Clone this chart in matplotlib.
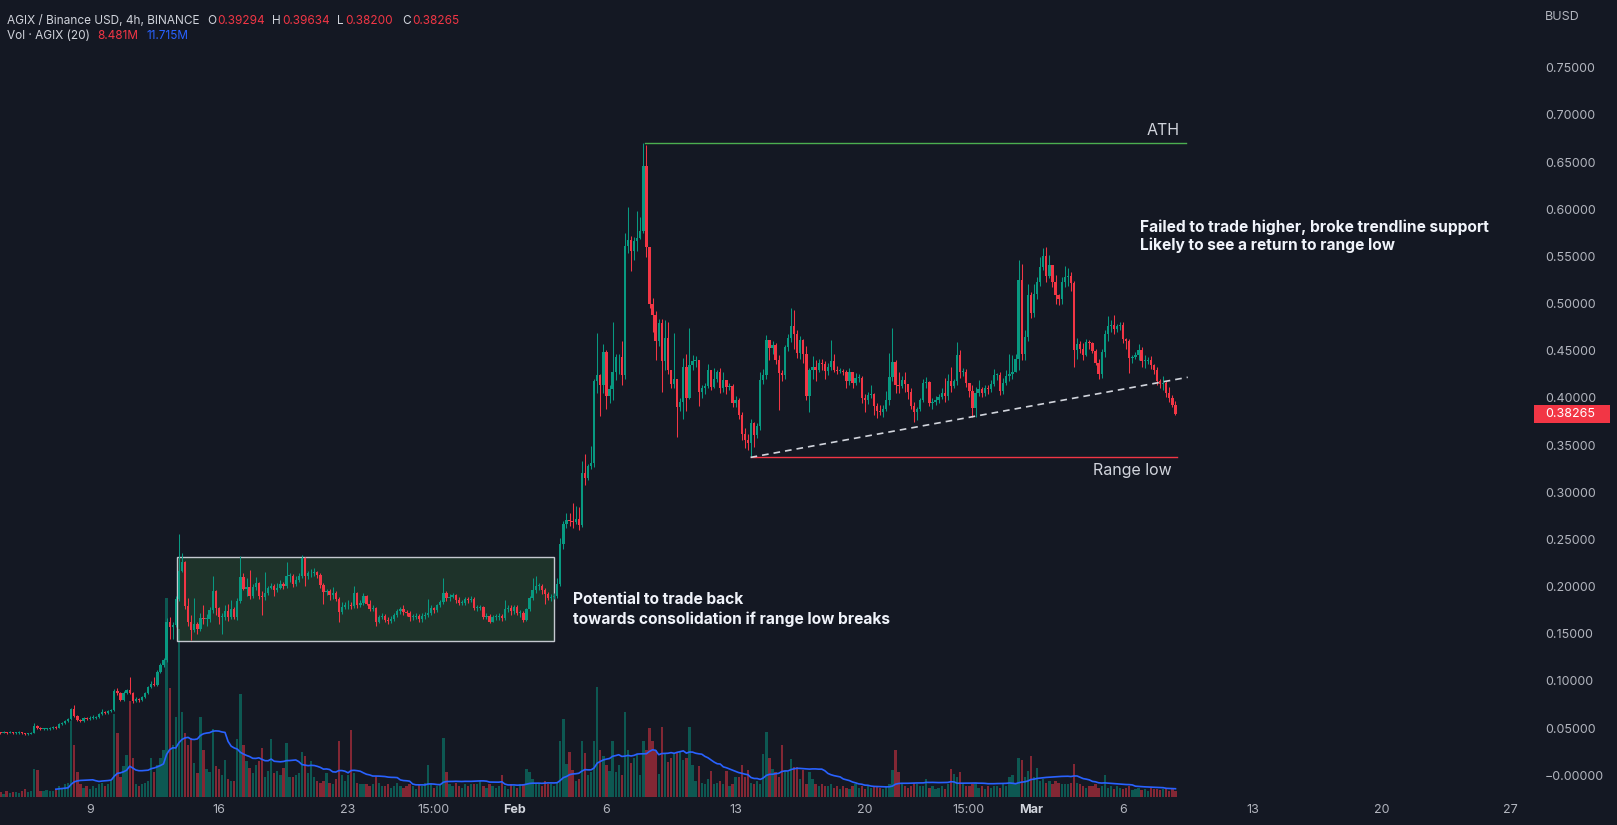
import numpy as np
import pandas as pd
import matplotlib
matplotlib.use('Agg')
import matplotlib.pyplot as plt
from matplotlib.patches import Rectangle

plt.rcParams['font.family'] = ['Inter', 'DejaVu Sans']

# AGIX/BUSD 4h candles, first one opens Jan 4 00:00 (day 3 counted from Jan 1 = 0)
# one row = one day = 6 candles, prices in 1/1000 BUSD
start_day = 3
first_open = 46

close_m = [
    46, 45, 46, 45, 46, 45,        # Jan 4
    45, 46, 45, 44, 44, 45,
    52, 50, 49, 49, 49, 50,
    51, 50, 54, 55, 58, 60,
    70, 63, 59, 58, 61, 60,
    61, 61, 62, 65, 67, 66,        # Jan 9
    68, 69, 89, 87, 80, 87,
    90, 87, 79, 81, 80, 83,
    87, 94, 97, 96, 110, 117,
    122, 163, 157, 159, 187, 217,
    226, 179, 162, 154, 160, 155,  # Jan 14
    167, 166, 166, 175, 195, 177,
    168, 168, 174, 168, 176, 168,  # Jan 16
    185, 210, 198, 200, 190, 200,
    204, 190, 189, 193, 199, 201,
    196, 199, 203, 201, 211, 211,
    203, 207, 211, 230, 211, 214,
    214, 215, 212, 202, 194, 195,
    191, 193, 187, 173, 178, 180,
    180, 179, 193, 180, 183, 190,  # Jan 23
    182, 176, 177, 163, 168, 169,
    165, 164, 166, 170, 174, 176,
    173, 172, 168, 168, 169, 166,
    169, 170, 172, 177, 175, 180,
    184, 193, 188, 189, 191, 186,
    183, 183, 187, 186, 187, 177,
    177, 178, 168, 169, 163, 168,
    168, 169, 167, 176, 177, 174,
    178, 172, 172, 165, 176, 188,  # Feb 1
    196, 201, 201, 196, 192, 188,
    189, 190, 203, 245, 266, 271,
    270, 268, 272, 265, 320, 315,
    328, 331, 418, 424, 414, 449,
    402, 409, 427, 443, 443, 424,  # Feb 6
    561, 567, 556, 566, 570, 577,
    646, 560, 500, 488, 460, 479,
    439, 463, 430, 415, 420, 390,
    396, 433, 400, 435, 439, 440,
    406, 410, 413, 430, 412, 420,
    427, 410, 419, 412, 413, 395,
    398, 382, 362, 355, 352, 373,  # Feb 13
    361, 370, 419, 424, 461, 453,
    456, 440, 426, 424, 454, 464,
    476, 468, 448, 461, 447, 402,
    430, 433, 430, 437, 436, 429,
    433, 439, 430, 429, 429, 428,
    418, 427, 416, 421, 421, 400,
    398, 403, 404, 391, 386, 385,  # Feb 20
    388, 398, 422, 438, 414, 413,
    419, 415, 406, 391, 385, 388,
    398, 416, 417, 395, 396, 398,
    401, 405, 402, 418, 413, 418,
    446, 428, 428, 416, 407, 389,
    405, 409, 405, 410, 409, 415,
    424, 424, 407, 416, 423, 425,
    428, 441, 525, 447, 465, 509,
    490, 510, 523, 539, 550, 529,  # Mar 1
    541, 523, 509, 505, 523, 528,
    529, 522, 451, 457, 452, 445,
    459, 458, 450, 437, 425, 449,
    468, 476, 477, 473, 476, 477,
    462, 460, 442, 443, 445, 451,  # Mar 6
    439, 439, 440, 435, 430, 418,
    415, 416, 405, 400, 392.94, 382.65,
]

high_m = [
    47, 46, 47, 46, 47, 46,
    46, 47, 46, 45, 45, 46,
    55, 53, 51, 50, 50, 51,
    52, 52, 55, 56, 59, 61,
    71, 75, 64, 60, 62, 62,
    63, 64, 63, 66, 70, 68,
    69, 70, 91, 93, 88, 89,
    92, 104, 88, 83, 82, 84,
    88, 95, 100, 104, 112, 119,
    124, 167, 168, 162, 190, 256,
    236, 227, 188, 170, 188, 162,
    172, 180, 171, 178, 211, 196,
    178, 172, 180, 182, 186, 178,
    188, 232, 214, 209, 218, 203,
    210, 205, 195, 216, 201, 204,
    203, 204, 207, 205, 226, 214,
    213, 211, 214, 233, 231, 217,
    219, 220, 217, 214, 204, 198,
    197, 200, 195, 189, 184, 184,
    186, 184, 201, 194, 186, 193,
    191, 186, 180, 178, 170, 172,
    171, 168, 169, 172, 176, 178,
    180, 175, 174, 171, 172, 171,
    172, 173, 187, 180, 178, 182,
    186, 209, 195, 192, 193, 192,
    189, 186, 189, 189, 190, 189,
    180, 181, 179, 172, 171, 170,
    171, 172, 171, 186, 180, 180,
    180, 181, 175, 174, 177, 190,
    209, 211, 204, 203, 199, 194,
    192, 193, 209, 252, 270, 278,
    278, 289, 285, 284, 333, 341,
    330, 349, 420, 469, 425, 457,
    451, 414, 480, 447, 447, 460,
    575, 602, 572, 571, 598, 592,
    670, 668, 560, 506, 492, 484,
    484, 483, 480, 425, 469, 418,
    400, 442, 447, 474, 445, 444,
    440, 414, 416, 436, 430, 432,
    430, 432, 427, 419, 416, 415,
    402, 400, 385, 368, 362, 378,
    375, 373, 428, 431, 467, 460,
    460, 458, 445, 430, 456, 468,
    495, 493, 472, 466, 462, 455,
    432, 444, 440, 441, 441, 439,
    437, 461, 447, 434, 432, 431,
    430, 432, 427, 426, 425, 423,
    404, 406, 414, 405, 395, 392,
    392, 407, 448, 474, 440, 427,
    423, 428, 415, 410, 396, 390,
    400, 420, 422, 418, 400, 402,
    404, 410, 421, 425, 433, 420,
    459, 451, 432, 431, 415, 414,
    412, 419, 412, 414, 414, 419,
    431, 426, 427, 421, 430, 447,
    445, 447, 546, 542, 472, 521,
    512, 521, 528, 549, 559, 560,
    552, 539, 530, 510, 528, 540,
    538, 534, 524, 464, 460, 458,
    462, 461, 459, 452, 441, 452,
    472, 487, 483, 488, 478, 480,
    480, 464, 462, 446, 449, 457,
    454, 445, 443, 444, 436, 433,
    420, 423, 418, 412, 403, 396.34,
]

low_m = [
    45, 44, 45, 44, 45, 44,
    44, 44, 44, 43, 43, 44,
    45, 49, 48, 48, 48, 48,
    49, 49, 50, 53, 54, 57,
    59, 62, 58, 57, 57, 59,
    59, 60, 60, 61, 64, 65,
    65, 67, 68, 85, 79, 79,
    86, 86, 77, 78, 78, 79,
    82, 86, 93, 95, 95, 108,
    115, 120, 145, 145, 157, 185,
    215, 176, 158, 143, 152, 150,
    153, 160, 158, 163, 172, 170,
    160, 150, 165, 164, 166, 166,
    165, 183, 196, 190, 187, 188,
    196, 187, 170, 186, 191, 197,
    190, 194, 197, 197, 199, 205,
    200, 201, 205, 209, 201, 208,
    210, 211, 209, 199, 182, 191,
    186, 187, 185, 162, 171, 176,
    176, 176, 177, 177, 178, 181,
    180, 174, 174, 158, 161, 166,
    162, 160, 161, 164, 168, 171,
    170, 169, 164, 165, 166, 163,
    163, 166, 168, 170, 172, 173,
    178, 182, 185, 185, 188, 183,
    180, 180, 181, 183, 184, 175,
    174, 175, 166, 166, 161, 162,
    165, 165, 164, 165, 173, 170,
    171, 170, 168, 163, 164, 174,
    186, 193, 196, 192, 182, 186,
    185, 187, 188, 201, 240, 262,
    264, 262, 266, 260, 263, 308,
    313, 325, 327, 405, 381, 405,
    388, 395, 398, 419, 425, 414,
    420, 554, 535, 546, 556, 568,
    575, 549, 495, 470, 440, 455,
    406, 430, 425, 410, 410, 359,
    386, 378, 386, 399, 430, 433,
    391, 400, 404, 410, 408, 410,
    417, 405, 406, 404, 408, 390,
    390, 378, 355, 347, 345, 337,
    348, 358, 366, 415, 420, 440,
    447, 436, 387, 418, 420, 450,
    459, 452, 442, 441, 437, 398,
    385, 420, 418, 427, 430, 420,
    424, 430, 428, 425, 426, 424,
    411, 414, 410, 414, 417, 395,
    385, 394, 400, 382, 379, 382,
    380, 386, 393, 418, 405, 405,
    410, 406, 399, 388, 375, 377,
    386, 396, 411, 391, 388, 392,
    395, 399, 396, 398, 406, 410,
    414, 421, 423, 412, 401, 380,
    380, 402, 401, 402, 404, 406,
    413, 419, 403, 404, 414, 418,
    420, 427, 430, 440, 440, 460,
    485, 486, 505, 519, 536, 523,
    527, 518, 500, 498, 500, 518,
    519, 513, 433, 441, 448, 440,
    444, 452, 448, 435, 420, 421,
    443, 460, 470, 468, 470, 472,
    458, 452, 426, 437, 441, 440,
    433, 432, 436, 431, 425, 414,
    410, 408, 401, 396, 390, 382,
]

# volume, millions of AGIX
volume_m = [
    6, 7, 4, 9, 6, 7,
    7, 6, 9, 12, 7, 9,
    39, 38, 9, 8, 10, 9,
    9, 10, 15, 13, 18, 20,
    107, 74, 35, 18, 13, 15,
    12, 15, 13, 18, 20, 15,
    18, 22, 118, 91, 29, 44,
    60, 136, 55, 18, 15, 18,
    20, 23, 55, 35, 45, 55,
    67, 282, 155, 73, 114, 238,
    121, 91, 73, 83, 48, 34,
    114, 66, 39, 35, 96, 44,
    39, 31, 53, 26, 22, 22,
    82, 146, 73, 51, 41, 34,
    45, 51, 70, 29, 37, 82,
    34, 37, 31, 41, 76, 29,
    29, 31, 34, 64, 58, 34,
    51, 29, 22, 20, 22, 34,
    20, 18, 26, 80, 31, 22,
    31, 95, 34, 20, 18, 19,
    18, 16, 19, 29, 20, 15,
    15, 18, 13, 16, 20, 15,
    13, 16, 19, 15, 12, 18,
    15, 20, 45, 18, 13, 16,
    19, 83, 35, 18, 15, 20,
    16, 13, 18, 15, 19, 18,
    18, 22, 15, 13, 19, 16,
    13, 15, 31, 16, 12, 18,
    15, 13, 19, 18, 39, 35,
    26, 20, 18, 16, 22, 19,
    18, 15, 20, 80, 110, 47,
    64, 38, 22, 26, 79, 63,
    31, 35, 80, 156, 67, 58,
    45, 37, 80, 35, 45, 31,
    120, 66, 48, 55, 60, 31,
    80, 66, 98, 79, 66, 32,
    99, 61, 50, 55, 61, 63,
    64, 53, 55, 99, 45, 23,
    44, 20, 18, 26, 37, 18,
    20, 23, 18, 37, 15, 18,
    29, 29, 45, 29, 38, 20,
    18, 22, 18, 61, 92, 55,
    39, 35, 29, 73, 37, 35,
    54, 42, 42, 26, 38, 19,
    35, 26, 18, 15, 19, 16,
    15, 18, 13, 16, 12, 15,
    13, 12, 15, 18, 13, 16,
    12, 15, 13, 16, 15, 13,
    12, 15, 18, 38, 67, 35,
    18, 15, 13, 16, 20, 18,
    15, 16, 26, 13, 15, 12,
    13, 15, 12, 18, 39, 32,
    29, 35, 18, 15, 16, 19,
    20, 13, 15, 12, 16, 13,
    15, 16, 13, 18, 15, 28,
    31, 20, 55, 53, 28, 37,
    58, 29, 41, 23, 26, 20,
    22, 19, 23, 20, 18, 19,
    18, 20, 47, 20, 18, 15,
    13, 16, 15, 18, 13, 15,
    31, 13, 16, 12, 15, 13,
    12, 13, 16, 10, 12, 13,
    10, 12, 9, 13, 11, 12,
    10, 11, 13, 9, 11.819, 8.481,
]

price_ticks = [0.75, 0.70, 0.65, 0.60, 0.55, 0.50, 0.45, 0.40,
               0.35, 0.30, 0.25, 0.20, 0.15, 0.10, 0.05, 0.0]
time_tick_days = [8, 15, 22, 26.625, 31, 36, 43, 50, 55.625, 59, 64, 71, 78, 85]
time_tick_labels = ['9', '16', '23', '15:00', 'Feb', '6', '13', '20', '15:00',
                    'Mar', '6', '13', '20', '27']

# drawings (day numbers / prices)
box_days = (12.75, 33.14)
box_prices = (0.142, 0.231)
ath_days = (38.11, 67.39)
range_days = (43.81, 66.94)
trend_end = (67.5, 0.4219)

BG = '#141823'
UP = '#089981'
DOWN = '#f23645'
TXT = '#b2b5be'
W, H = 1617, 825

n = min(len(close_m), len(high_m), len(low_m), len(volume_m))
close = np.array(close_m[:n]) / 1000
high = np.array(high_m[:n]) / 1000
low = np.array(low_m[:n]) / 1000
opn = np.r_[first_open / 1000, close[:-1]]
high = np.maximum(high, np.maximum(opn, close))
low = np.minimum(low, np.minimum(opn, close))
vol = np.array(volume_m[:n], dtype=float)
days = start_day + np.arange(n) / 6
vol_ma = pd.Series(vol).rolling(20).mean()
up = close >= opn
colors = np.where(up, UP, DOWN)

fig = plt.figure(figsize=(W / 100, H / 100), dpi=100, facecolor=BG)
rect = [0, 1 - 797 / H, 1534 / W, 797 / H]
xlim = (3.14, 86.26)

# volume pane underneath
vax = fig.add_axes(rect)
vax.bar(days, vol, width=0.125, color=colors, alpha=0.5, linewidth=0)
vax.plot(days, vol_ma, color='#2962ff', lw=1.2)
vax.set_xlim(*xlim)
vax.set_ylim(0, 1129)
vax.axis('off')

ax = fig.add_axes(rect, facecolor='none')
ax.set_xlim(*xlim)
ax.set_ylim(-0.0230, 0.8218)
for s in ax.spines.values():
    s.set_visible(False)

# consolidation box
ax.add_patch(Rectangle((box_days[0], box_prices[0]), box_days[1] - box_days[0],
                       box_prices[1] - box_prices[0], facecolor=(0.30, 0.69, 0.31, 0.18),
                       edgecolor='#c5c8d0', lw=1.0, zorder=1))

# candles
body_lo = np.minimum(opn, close)
body_h = np.maximum(np.abs(close - opn), 0.0009)
ax.vlines(days, low, high, colors=colors, lw=0.75, zorder=3)
ax.bar(days, body_h, bottom=body_lo, width=0.125, color=colors, linewidth=0, zorder=3.1)

# ATH, range low, trendline
ath = high.max()
range_low = low[days >= 43].min()
ax.plot(ath_days, [ath, ath], color='#4caf50', lw=1.0, zorder=4)
ax.plot(range_days, [range_low, range_low], color=DOWN, lw=1.0, zorder=4)
ax.plot([range_days[0], trend_end[0]], [range_low, trend_end[1]], color='#d1d4dc',
        lw=1.2, ls=(0, (4, 3)), zorder=4)
ax.annotate('ATH', (ath_days[1], ath), xytext=(-4, 4), textcoords='offset points',
            ha='right', va='bottom', color='#d1d4dc', fontsize=11.5)
ax.annotate('Range low', (range_days[1], range_low), xytext=(-4, -4), textcoords='offset points',
            ha='right', va='top', color='#d1d4dc', fontsize=11.5)

# axes ticks
ax.yaxis.tick_right()
ax.set_yticks(price_ticks)
ax.set_yticklabels([f'{p:.5f}' if p > 0 else '\u22120.00000' for p in price_ticks])
ax.tick_params(axis='y', length=0, pad=8, labelsize=9, labelcolor=TXT)
ax.set_xticks(time_tick_days)
ax.set_xticklabels(time_tick_labels)
ax.tick_params(axis='x', length=0, pad=5, labelsize=9, labelcolor=TXT)
for lab in ax.get_xticklabels():
    if lab.get_text() in ('Feb', 'Mar'):
        lab.set_fontweight('bold')
        lab.set_color('#d1d4dc')


def fx(px):
    return px / W


def fy(py):
    return 1 - py / H


fig.text(fx(1545), fy(17.5), 'BUSD', color=TXT, fontsize=9, va='center')

# last price tag
y_last = ax.transData.transform((0, close[-1]))[1]
fig.add_artist(Rectangle((1534 / W, (y_last - 9) / H), 76 / W, 18 / H,
                         transform=fig.transFigure, color=DOWN, lw=0))
fig.text(fx(1545), y_last / H, f'{close[-1]:.5f}', color='white', fontsize=9, va='center')

# legend header
hdr_fs = 8.5
hdr_y1, hdr_y2 = fy(20.7), fy(36)
fig.text(fx(7), hdr_y1, 'AGIX / Binance USD, 4h, BINANCE', color='#d1d4dc', fontsize=hdr_fs, va='center')
for letter, val, x0 in [('O', opn[-1], 207), ('H', high[-1], 272),
                        ('L', low[-1], 337), ('C', close[-1], 402)]:
    fig.text(fx(x0), hdr_y1, letter, color='#d1d4dc', fontsize=hdr_fs, va='center')
    fig.text(fx(x0 + (8 if letter == 'L' else 10)), hdr_y1, f'{val:.5f}', color=DOWN,
             fontsize=hdr_fs, va='center')
fig.text(fx(7), hdr_y2, 'Vol \u00b7 AGIX (20)', color='#d1d4dc', fontsize=hdr_fs, va='center')
fig.text(fx(97), hdr_y2, f'{vol[-1]:.3f}M', color=DOWN, fontsize=hdr_fs, va='center')
fig.text(fx(146), hdr_y2, f'{round(vol_ma.iloc[-1] + 1e-9, 3):.3f}M', color='#2962ff',
         fontsize=hdr_fs, va='center')

# comments
note_kw = dict(color='#f0f3fa', fontsize=11.2, fontweight='bold', va='center')
fig.text(fx(573), fy(600), 'Potential to trade back', **note_kw)
fig.text(fx(573), fy(619), 'towards consolidation if range low breaks', **note_kw)
fig.text(fx(1140), fy(227), 'Failed to trade higher, broke trendline support', **note_kw)
fig.text(fx(1140), fy(245), 'Likely to see a return to range low', **note_kw)

fig.savefig('out.png', dpi=100, facecolor=BG)
